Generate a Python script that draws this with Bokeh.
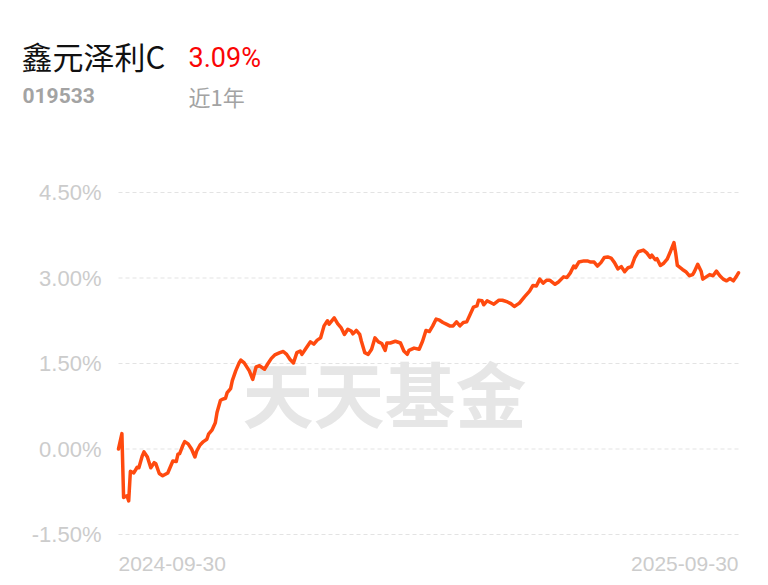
import pandas as pd
from bokeh.plotting import figure
from bokeh.models import Range1d
from bokeh.core.properties import value
from bokeh.embed import file_html
from bokeh.resources import INLINE

fund_name = "鑫元泽利C"
fund_code = "019533"
period_label = "近1年"
latest_return = "3.09%"
watermark = "天天基金"
start_date = "2024-09-30"
end_date = "2025-09-30"

day_offsets = [0, 2, 3, 5, 6, 7, 9, 11, 12, 14, 15, 17, 19, 21, 22, 24, 26, 29, 31, 32,
               34, 35, 36, 38, 39, 41, 43, 45, 46, 48, 50, 52, 53, 55, 57, 58, 60, 61, 63, 64,
               66, 67, 69, 71, 72, 74, 77, 79, 81, 83, 86, 88, 90, 92, 95, 97, 99, 101, 103, 105,
               107, 108, 110, 113, 115, 117, 119, 121, 123, 124, 127, 129, 131, 133, 135, 137, 138, 140, 142, 143,
               145, 147, 149, 151, 153, 155, 157, 158, 160, 163, 166, 168, 170, 171, 174, 177, 179, 181, 183, 185,
               187, 189, 191, 193, 195, 197, 199, 201, 203, 205, 207, 209, 211, 212, 214, 215, 217, 219, 221, 224,
               226, 229, 231, 233, 236, 239, 242, 244, 246, 248, 250, 252, 254, 257, 259, 262, 264, 266, 268, 269,
               271, 274, 276, 278, 280, 282, 284, 286, 288, 290, 292, 294, 296, 298, 300, 302, 304, 306, 309, 311,
               313, 314, 316, 317, 319, 321, 323, 325, 327, 328, 329, 332, 334, 336, 338, 339, 341, 343, 344, 346,
               348, 350, 352, 354, 356, 358, 360, 362, 364, 365]

returns_pct = [0.00, 0.27, -0.85, -0.82, -0.91, -0.39, -0.42, -0.32, -0.33, -0.12, -0.05, -0.14, -0.33, -0.24, -0.26, -0.43, -0.47, -0.42, -0.28, -0.21,
               -0.22, -0.09, -0.08, 0.07, 0.13, 0.09, 0.00, -0.14, -0.04, 0.07, 0.13, 0.17, 0.26, 0.33, 0.46, 0.64, 0.85, 0.87, 0.89, 0.99,
               1.06, 1.20, 1.37, 1.51, 1.56, 1.51, 1.37, 1.22, 1.44, 1.46, 1.40, 1.50, 1.59, 1.65, 1.69, 1.71, 1.66, 1.57, 1.51, 1.69,
               1.72, 1.66, 1.75, 1.88, 1.84, 1.91, 1.95, 2.16, 2.25, 2.19, 2.30, 2.20, 2.13, 2.01, 2.10, 2.07, 2.02, 2.08, 2.01, 1.89,
               1.69, 1.66, 1.75, 1.95, 1.88, 1.85, 1.73, 1.86, 1.86, 1.89, 1.86, 1.72, 1.66, 1.73, 1.77, 1.75, 1.89, 2.08, 2.06, 2.16,
               2.28, 2.26, 2.22, 2.19, 2.16, 2.16, 2.23, 2.16, 2.22, 2.23, 2.36, 2.49, 2.51, 2.61, 2.60, 2.53, 2.60, 2.57, 2.54, 2.61,
               2.61, 2.58, 2.55, 2.50, 2.56, 2.67, 2.77, 2.87, 2.86, 2.98, 2.91, 2.96, 2.96, 2.89, 2.93, 3.02, 3.01, 3.09, 3.21, 3.18,
               3.28, 3.30, 3.30, 3.28, 3.28, 3.21, 3.27, 3.36, 3.37, 3.35, 3.27, 3.16, 3.20, 3.11, 3.18, 3.20, 3.36, 3.46, 3.49, 3.44,
               3.36, 3.40, 3.32, 3.34, 3.22, 3.26, 3.33, 3.47, 3.62, 3.44, 3.22, 3.15, 3.11, 3.04, 3.06, 3.11, 3.24, 3.12, 2.98, 3.02,
               3.06, 3.04, 3.12, 3.04, 2.98, 2.95, 2.99, 2.95, 3.04, 3.09]

y_ticks = [-1.5, 0.0, 1.5, 3.0, 4.5]
y_tick_labels = ["%.2f%%" % t for t in y_ticks]

dates = pd.to_datetime(start_date) + pd.to_timedelta(day_offsets, unit="D")
d0 = pd.to_datetime(start_date)
d1 = pd.to_datetime(end_date)

# layout (canvas pixels): plotting area inside the full-canvas frame
W, H = 768, 585
PL, PR, PT, PB = 118, 738, 192, 534
span = d1 - d0
x_lo = d0 - span * (PL / (PR - PL))
x_hi = d1 + span * ((W - PR) / (PR - PL))
yspan = y_ticks[-1] - y_ticks[0]
y_hi = y_ticks[-1] + yspan * (PT / (PB - PT))
y_lo = y_ticks[0] - yspan * ((H - PB) / (PB - PT))

p = figure(width=W, height=H, output_backend="svg", toolbar_location=None,
           x_axis_type="datetime", x_axis_location=None, y_axis_location=None,
           x_range=Range1d(x_lo, x_hi), y_range=Range1d(y_lo, y_hi),
           min_border=0, min_border_left=0, min_border_right=0,
           min_border_top=0, min_border_bottom=0)
p.outline_line_color = None
p.background_fill_color = "white"
p.border_fill_color = "white"
p.grid.visible = False

# dashed horizontal grid
p.segment(x0=[d0] * len(y_ticks), x1=[d1] * len(y_ticks), y0=y_ticks, y1=y_ticks,
          line_color="#e3e3e3", line_width=1, line_dash="4 3")

# y tick labels
p.text(x=[d0] * len(y_ticks), y=y_ticks, text=y_tick_labels, x_offset=-17,
       text_font=value("Liberation Sans"), text_font_size="22px", text_color="#cccccc",
       text_align="right", text_baseline="middle")

# watermark (anchored to canvas top-left)
p.text(x=[x_lo], y=[y_hi], text=[watermark], x_offset=384, y_offset=390,
       text_font=value("Noto Sans CJK SC"), text_font_style="bold", text_font_size="71px",
       text_color="#e6e6e6", text_align="center", text_baseline="middle")

# the series
p.line(dates, returns_pct, line_color="#ff4a0f", line_width=3.5, line_join="round", line_cap="round")

# x labels
p.text(x=[d0], y=[y_ticks[0]], text=[start_date], y_offset=29,
       text_font=value("Liberation Sans"), text_font_size="21px", text_color="#cccccc",
       text_align="left", text_baseline="middle")
p.text(x=[d1], y=[y_ticks[0]], text=[end_date], y_offset=29,
       text_font=value("Liberation Sans"), text_font_size="21px", text_color="#cccccc",
       text_align="right", text_baseline="middle")

# header (anchored to canvas top-left)
p.text(x=[x_lo], y=[y_hi], text=[fund_name], x_offset=21, y_offset=55,
       text_font=value("Noto Sans CJK SC"), text_font_size="31px", text_color="#111111",
       text_align="left", text_baseline="middle")
p.text(x=[x_lo], y=[y_hi], text=[latest_return], x_offset=188, y_offset=57,
       text_font=value("Roboto"), text_font_size="27px", text_color="#fa0505",
       text_align="left", text_baseline="middle")
p.text(x=[x_lo], y=[y_hi], text=[fund_code], x_offset=22, y_offset=95,
       text_font=value("Roboto"), text_font_style="bold", text_font_size="21px", text_color="#a3a3a3",
       text_align="left", text_baseline="middle")
p.text(x=[x_lo], y=[y_hi], text=[period_label], x_offset=188, y_offset=95,
       text_font=value("Noto Sans CJK SC"), text_font_size="22px", text_color="#a3a3a3",
       text_align="left", text_baseline="middle")

open("out.html", "w").write(file_html(p, INLINE))
